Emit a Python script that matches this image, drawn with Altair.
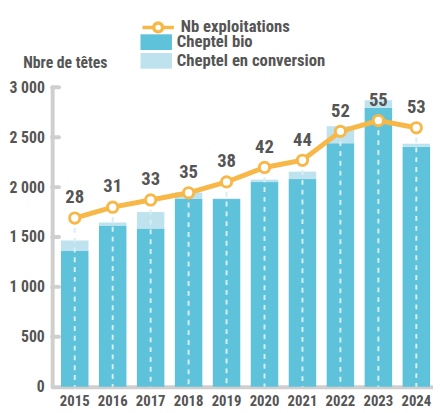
import altair as alt
import pandas as pd

years = ["2015", "2016", "2017", "2018", "2019", "2020", "2021", "2022", "2023", "2024"]
bio = [1360, 1615, 1585, 1880, 1880, 2050, 2080, 2440, 2795, 2405]
conversion = [105, 30, 165, 65, 5, 25, 75, 170, 75, 30]
exploitations = [28, 31, 33, 35, 38, 42, 44, 52, 55, 53]
y_ticks = [0, 500, 1000, 1500, 2000, 2500, 3000]
bar_series = ["Cheptel bio", "Cheptel en conversion"]
bar_colors = ["#5ec2da", "#bee3ee"]
line_series = ["Nb exploitations"]
ORANGE = "#f7b848"
n_domain = [-18.7, 64.2]

FONT = "Noto Sans Condensed, Noto Sans SemiCondensed, Roboto Condensed, Roboto"
GRAY = "#cfcfcf"
TXT = "#555555"

df = pd.DataFrame({
    "year": years,
    "Cheptel bio": bio,
    "Cheptel en conversion": conversion,
    "n": exploitations,
})
ticks_df = pd.DataFrame({"v": y_ticks[1:]})

x = alt.X(
    "year:N", title=None,
    scale=alt.Scale(paddingInner=0.276, paddingOuter=0.155, align=0.75),
    axis=alt.Axis(labelAngle=0, ticks=False, domainColor=GRAY, domainWidth=4,
                  labelFont=FONT, labelFontSize=15, labelColor=TXT, labelPadding=7,
                  labelFontWeight="bold"),
)

yscale = alt.Scale(domain=[0, 3000], nice=False)
yaxis = alt.Axis(
    values=y_ticks, grid=False, ticks=False, domainColor=GRAY, domainWidth=4,
    domainCap="round",
    labelExpr="replace(format(datum.value, ','), ',', ' ')",
    labelFont=FONT, labelFontSize=16, labelFontWeight="bold", labelColor=TXT,
    labelPadding=8,
    title="Nbre de têtes", titleAngle=0, titleX=-30, titleY=-20, titleAlign="left",
    titleBaseline="alphabetic", titleFont=FONT, titleFontSize=16,
    titleFontWeight="bold", titleColor=TXT,
)

common_legend = dict(
    orient="none", title=None, padding=0, symbolSize=324,
    labelOffset=12, rowPadding=1, labelFont=FONT, labelFontSize=17,
    labelFontWeight="bold", labelColor=TXT, labelLimit=300,
)
bar_legend = alt.Legend(
    legendX=97, legendY=-55,
    symbolType="M-1.78,-0.89H1.78V0.89H-1.78Z", symbolStrokeWidth=0,
    symbolOpacity=1, **common_legend,
)
line_legend = alt.Legend(
    legendX=97, legendY=-72,
    symbolType="M-1.78,0H-0.5M0.5,0H1.78M-0.5,0A0.5,0.5 0 1,1 0.5,0A0.5,0.5 0 1,1 -0.5,0Z",
    symbolFillColor="#ffffff", symbolStrokeWidth=3.5, symbolOpacity=1,
    **common_legend,
)

bars = alt.Chart(df).transform_fold(
    bar_series, as_=["serie", "val"]
).transform_calculate(
    ord="datum.serie === 'Cheptel bio' ? 0 : 1"
).mark_bar().encode(
    x=x,
    y=alt.Y("val:Q", stack="zero", scale=yscale, axis=yaxis),
    color=alt.Color("serie:N", scale=alt.Scale(domain=bar_series, range=bar_colors),
                    legend=bar_legend),
    order=alt.Order("ord:Q"),
)

ticks = alt.Chart(ticks_df).mark_rule(color=GRAY, strokeWidth=4, strokeCap="round").encode(
    y=alt.Y("v:Q", scale=yscale, axis=yaxis),
    x=alt.value(0), x2=alt.value(7),
)

yn = alt.Y("n:Q", scale=alt.Scale(domain=n_domain, nice=False, zero=False), axis=None)
base = alt.Chart(df).transform_calculate(s="'Nb exploitations'")
rules = base.mark_rule(color="#d6eef6", strokeWidth=2, strokeDash=[5, 5]).encode(
    x=x, y=yn, y2=alt.datum(n_domain[0]))
line = base.mark_line(color=ORANGE, strokeWidth=5).encode(x=x, y=yn)
points = base.mark_point(filled=True, fill="white", strokeWidth=3,
                         size=110, opacity=1).encode(
    x=x, y=yn,
    stroke=alt.Stroke("s:N", scale=alt.Scale(domain=line_series, range=[ORANGE]),
                      legend=line_legend),
)
labels = base.mark_text(dy=-11, baseline="bottom", font=FONT, fontSize=19,
                        fontWeight="bold", color=TXT).encode(x=x, y=yn, text="n:Q")

chart = alt.layer(
    alt.layer(bars, ticks),
    alt.layer(rules, line, points, labels),
).resolve_scale(y="independent").properties(
    width=388, height=305,
    autosize=alt.AutoSizeParams(type="none"),
    padding={"left": 45, "top": 77, "right": 0, "bottom": 23},
).configure_view(stroke=None)

chart.save("out.html", embed_options={"renderer": "svg", "actions": False})
